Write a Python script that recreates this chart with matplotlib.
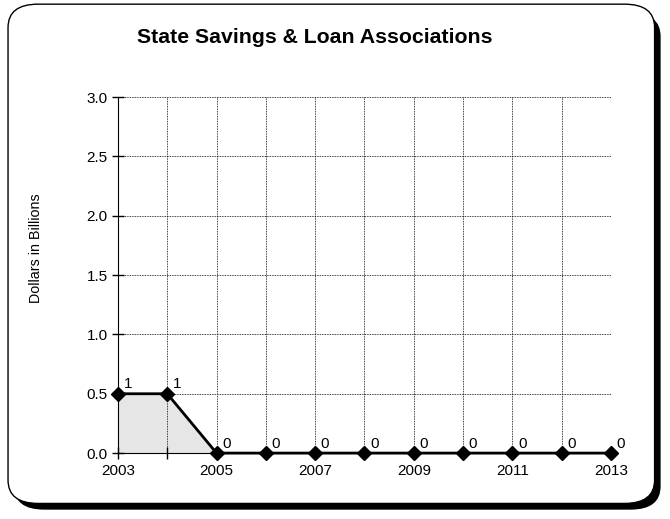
import matplotlib
matplotlib.use("Agg")
import matplotlib.pyplot as plt
from matplotlib.patches import FancyBboxPatch

plt.rcParams["font.family"] = ["Liberation Sans", "DejaVu Sans"]

years = [2003, 2004, 2005, 2006, 2007, 2008, 2009, 2010, 2011, 2012, 2013]
values = [0.5, 0.5, 0, 0, 0, 0, 0, 0, 0, 0, 0]
point_labels = ["1", "1", "0", "0", "0", "0", "0", "0", "0", "0", "0"]
y_ticks = [0.0, 0.5, 1.0, 1.5, 2.0, 2.5, 3.0]
x_labels = ["2003", "", "2005", "", "2007", "", "2009", "", "2011", "", "2013"]

fig = plt.figure(figsize=(6.7, 5.19), dpi=100)

# rounded frame with shadow
shadow = FancyBboxPatch((0.021, 0.018), 0.965, 0.957,
                        boxstyle="round,pad=0,rounding_size=0.045",
                        transform=fig.transFigure, facecolor="black",
                        edgecolor="black", lw=0, zorder=0)
frame = FancyBboxPatch((0.012, 0.03), 0.965, 0.962,
                       boxstyle="round,pad=0,rounding_size=0.045",
                       transform=fig.transFigure, facecolor="white",
                       edgecolor="black", lw=1.0, zorder=1)
fig.patches.append(shadow)
fig.patches.append(frame)

ax = fig.add_axes([0.176, 0.127, 0.736, 0.686])
ax.set_zorder(2)
ax.patch.set_alpha(0)

ax.fill_between(years, values, 0, color="#e6e6e6", zorder=1)
ax.plot(years, values, color="black", lw=2, marker="D", markersize=7, zorder=4, clip_on=False)
for x, y, t in zip(years, values, point_labels):
    ax.annotate(t, (x, y), xytext=(4, 4), textcoords="offset points", fontsize=11, zorder=5)

ax.set_xlim(2003, 2013)
ax.set_ylim(0, 3.0)
ax.set_xticks(years)
ax.set_xticklabels(x_labels)
ax.set_yticks(y_ticks)
ax.set_yticklabels([f"{v:.1f}" for v in y_ticks])
ax.tick_params(direction="inout", length=8, width=1, labelsize=11)
ax.grid(True, color="black", linestyle=(0, (1, 1)), lw=0.6)
ax.spines["top"].set_visible(False)
ax.spines["right"].set_visible(False)
ax.spines["left"].set_color("black")
ax.spines["bottom"].set_color("black")

fig.text(0.054, 0.522, "Dollars in Billions", rotation=90, ha="center", va="center",
         fontsize=10.3)
fig.text(0.47, 0.927, "State Savings & Loan Associations", ha="center", va="center",
         fontsize=15.3, fontweight="bold")

fig.savefig("out.png", dpi=100)
